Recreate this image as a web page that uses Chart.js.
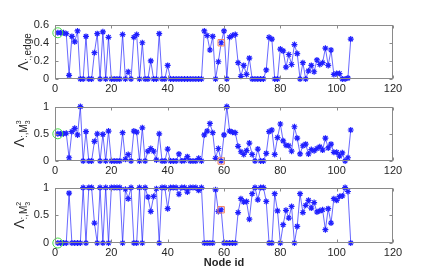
<!doctype html>
<html lang="en">
<head>
  <meta charset="utf-8">
  <title>Node id</title>
  <script src="https://cdn.jsdelivr.net/npm/chart.js@4.4.1/dist/chart.umd.min.js"></script>
  <style>
    html, body { margin: 0; padding: 0; background: #fff; }
    #wrap { position: relative; width: 436px; height: 273px; overflow: hidden; }
    canvas { position: absolute; left: 0; }
  </style>
</head>
<body>
  <div id="wrap">
    <canvas id="c1" width="436" height="84" style="top:12px"></canvas>
    <canvas id="c2" width="436" height="84" style="top:94px"></canvas>
    <canvas id="c3" width="436" height="98" style="top:175px"></canvas>
  </div>

  <script>
    // node ids 1..105 on the x axis
    const nodeIds = Array.from({ length: 105 }, (_, i) => i + 1);

    const lambdaEdge = [
      0.51, 0.51, 0.51, 0.50, 0.04, 0.47, 0.41, 0.53, 0, 0,
      0.47, 0, 0, 0.29, 0.50, 0, 0.52, 0, 0.46, 0,
      0, 0, 0, 0.49, 0, 0.08, 0, 0.46, 0.49, 0,
      0.40, 0, 0, 0.20, 0, 0, 0.50, 0, 0, 0.15,
      0, 0, 0, 0, 0, 0, 0, 0, 0, 0,
      0, 0, 0.53, 0.48, 0.32, 0.47, 0, 0.19, 0.40, 0.53,
      0, 0.46, 0.48, 0.49, 0.18, 0.03, 0.15, 0.05, 0.23, 0,
      0, 0, 0, 0, 0.10, 0.46, 0.44, 0, 0, 0.33,
      0.31, 0.13, 0.27, 0.16, 0.38, 0.28, 0, 0.18, 0, 0.09,
      0.15, 0.08, 0.21, 0.16, 0.18, 0.34, 0.15, 0.32, 0.05, 0.06,
      0.06, 0, 0, 0.01, 0.44
    ];

    const lambdaM33 = [
      0.50, 0.50, 0.50, 0.51, 0.06, 0.54, 0.60, 0.48, 1.00, 0,
      0.54, 0, 0, 0.36, 0.50, 0, 0.49, 0, 0.55, 0,
      0, 0, 0, 0.52, 0.03, 0.12, 0, 0.55, 0.53, 0,
      0.61, 0, 0.18, 0.23, 0.18, 0.02, 0.50, 0, 0, 0.22,
      0, 0, 0, 0.13, 0, 0.01, 0.08, 0, 0, 0,
      0.05, 0, 0.48, 0.55, 0.69, 0.52, 0.05, 0.23, 0, 0.48,
      1.00, 0.55, 0.53, 0.52, 0.27, 0.17, 0.12, 0.19, 0.33, 0.12,
      0, 0.22, 0, 0, 0.14, 0.54, 0.57, 0.12, 0.43, 0.68,
      0.37, 0.29, 0.28, 0.18, 0.63, 0.42, 0.13, 0.28, 0.31, 0.13,
      0.21, 0.19, 0.23, 0.26, 0.20, 0.42, 0.24, 0.31, 0.16, 0.16,
      0.09, 0.15, 0, 0.06, 0.57
    ];

    const lambdaM32 = [
      0, 0, 0, 0, 0.90, 0, 0, 0, 0, 1,
      0, 1, 1, 0.36, 0, 1, 0, 1, 0, 1,
      1, 1, 1, 0, 0.97, 0.80, 1, 0, 0, 1,
      0, 1, 0.83, 0.57, 0.84, 0.98, 0, 1, 1, 0.62,
      1, 1, 1, 0.88, 1, 1, 0.92, 1, 1, 1,
      0.95, 1, 0, 0, 0, 0, 0.96, 0.57, 0.60, 0,
      0, 0, 0, 0, 0.55, 0.80, 0.74, 0.75, 0.43, 0.89,
      1, 0.78, 1, 1, 0.75, 0, 0, 0.89, 0.58, 0,
      0.33, 0.59, 0.45, 0.66, 0, 0.30, 0.89, 0.55, 0.68, 0.77,
      0.63, 0.73, 0.56, 0.58, 0.60, 0.24, 0.62, 0.36, 0.80, 0.77,
      0.84, 0.85, 1, 0.93, 0
    ];

    const sourceNode = 1;   // green circle
    const markedNode = 59;  // orange square

    const xTicks = [0, 20, 40, 60, 80, 100, 120];
    const edgeTicks = [0, 0.2, 0.4, 0.6];
    const unitTicks = [0, 0.5, 1];

    const FONT = "'Liberation Sans', Arial, Helvetica, sans-serif";
    const TEXT = '#262626';

    // box around the axes with small ticks pointing inward (matlab look)
    const boxPlugin = {
      id: 'box',
      afterDraw(chart) {
        const { ctx, chartArea: a, scales } = chart;
        const l = Math.round(a.left) + 0.5, r = Math.round(a.right) - 0.5;
        const t = Math.round(a.top) + 0.5, b = Math.round(a.bottom) - 0.5;
        ctx.save();
        ctx.strokeStyle = '#8a8a8a';
        ctx.lineWidth = 1;
        ctx.strokeRect(l, t, r - l, b - t);
        ctx.beginPath();
        scales.x.ticks.forEach(tk => {
          const px = Math.round(scales.x.getPixelForValue(tk.value)) + 0.5;
          ctx.moveTo(px, b); ctx.lineTo(px, b - 3);
          ctx.moveTo(px, t); ctx.lineTo(px, t + 3);
        });
        scales.y.ticks.forEach(tk => {
          const py = Math.round(scales.y.getPixelForValue(tk.value)) + 0.5;
          ctx.moveTo(l, py); ctx.lineTo(l + 3, py);
          ctx.moveTo(r, py); ctx.lineTo(r - 3, py);
        });
        ctx.stroke();
        ctx.restore();
      }
    };

    // rotated y label with sub/superscripts
    const yLabelPlugin = {
      id: 'ylabel',
      afterDraw(chart, args, opts) {
        const { ctx, chartArea: a } = chart;
        const parts = opts.parts || [];
        ctx.save();
        // superscripts sit over the sub-subscript, so they add no width
        let w = 0;
        parts.forEach(p => {
          ctx.font = p.size + 'px ' + FONT;
          if (!p.overlap) w += ctx.measureText(p.t).width;
        });
        ctx.translate(opts.x, (a.top + a.bottom) / 2);
        ctx.rotate(-Math.PI / 2);
        ctx.fillStyle = TEXT;
        ctx.textBaseline = 'alphabetic';
        let x = -w / 2, lastX = x;
        parts.forEach(p => {
          ctx.font = p.size + 'px ' + FONT;
          const px = p.overlap ? lastX : x;
          ctx.fillText(p.t, px, p.dy || 0);
          if (!p.overlap) { lastX = x; x += ctx.measureText(p.t).width; }
        });
        ctx.restore();
      }
    };

    function makeChart(id, values, ticks, yMax, labelParts, labelX, last) {
      const pts = nodeIds.map((n, i) => ({ x: n, y: values[i] }));
      return new Chart(document.getElementById(id), {
        type: 'line',
        data: {
          datasets: [
            {
              data: [{ x: sourceNode, y: values[sourceNode - 1] }],
              showLine: false,
              pointStyle: 'circle',
              pointRadius: 5,
              pointBorderWidth: 1,
              pointBorderColor: '#44dd44',
              pointBackgroundColor: 'rgba(0,0,0,0)',
              clip: false,
              order: 0
            },
            {
              data: [{ x: markedNode, y: values[markedNode - 1] }],
              showLine: false,
              pointStyle: 'rect',
              pointRadius: 4.5,
              pointBorderWidth: 1,
              pointBorderColor: '#f08060',
              pointBackgroundColor: 'rgba(0,0,0,0)',
              clip: false,
              order: 0
            },
            {
              data: pts,
              borderColor: 'rgba(40,40,255,0.7)',
              borderWidth: 1,
              pointStyle: 'star',
              pointRadius: 3,
              pointBorderWidth: 1.2,
              pointBorderColor: '#2020ff',
              pointBackgroundColor: '#2020ff',
              tension: 0,
              clip: false,
              order: 1
            }
          ]
        },
        options: {
          responsive: false,
          animation: false,
          events: [],
          layout: { padding: { top: 9, right: 43, left: 0, bottom: 0 } },
          plugins: {
            legend: { display: false },
            tooltip: { enabled: false },
            ylabel: { parts: labelParts, x: labelX }
          },
          scales: {
            x: {
              type: 'linear',
              min: 0,
              max: 120,
              afterBuildTicks: s => { s.ticks = xTicks.map(v => ({ value: v })); },
              afterFit: s => { s.height = last ? 30 : 17; },
              grid: { display: false, drawTicks: false },
              border: { display: false },
              ticks: { color: TEXT, font: { family: FONT, size: 11 }, padding: 3, maxRotation: 0 },
              title: {
                display: !!last,
                text: 'Node id',
                color: TEXT,
                font: { family: FONT, size: 11, weight: 'bold' },
                padding: { top: 0, bottom: 3 }
              }
            },
            y: {
              min: 0,
              max: yMax,
              afterBuildTicks: s => { s.ticks = ticks.map(v => ({ value: v })); },
              afterFit: s => { s.width = 55; },
              grid: { display: false, drawTicks: false },
              border: { display: false },
              ticks: {
                color: TEXT,
                font: { family: FONT, size: 11 },
                padding: 6,
                callback: v => String(v)
              }
            }
          }
        },
        plugins: [boxPlugin, yLabelPlugin]
      });
    }

    makeChart('c1', lambdaEdge, edgeTicks, 0.6, [
      { t: '\u039B', size: 14 },
      { t: ':,edge', size: 10, dy: 3 }
    ], 28, false);

    makeChart('c2', lambdaM33, unitTicks, 1, [
      { t: '\u039B', size: 14 },
      { t: ':,M', size: 10, dy: 3 },
      { t: '3', size: 7, dy: 6 },
      { t: '3', size: 7, dy: -3, overlap: true }
    ], 24, false);

    makeChart('c3', lambdaM32, unitTicks, 1, [
      { t: '\u039B', size: 14 },
      { t: ':,M', size: 10, dy: 3 },
      { t: '3', size: 7, dy: 6 },
      { t: '2', size: 7, dy: -3, overlap: true }
    ], 24, true);
  </script>
</body>
</html>
